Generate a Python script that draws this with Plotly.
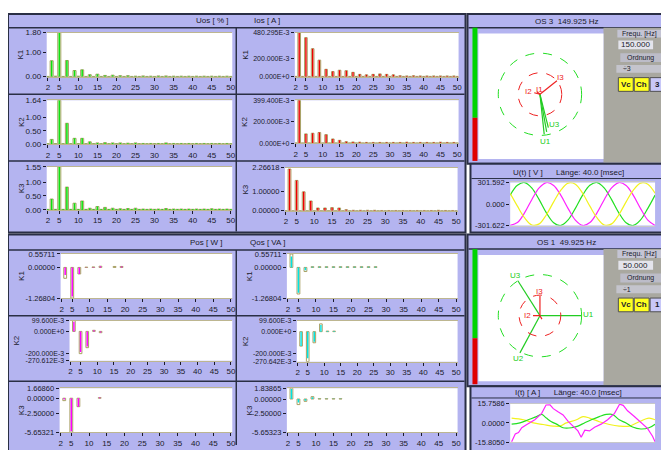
import numpy as np
import plotly.graph_objects as go

# the page body has an 8 px margin; the figure is sized to fill the rest of the 669x450 window
OFF = 8
W, H = 669 - OFF, 450 - OFF


def fx(x):
    return (x - OFF) / W


def fy(y):
    return 1 - (y - OFF) / H


# ---------------- data ----------------
HARM = list(range(2, 51))
X_TICKS = [2, 5, 10, 15, 20, 25, 30, 35, 40, 45, 50]

UOS_K1 = [0.01, 0.65, 0.02, 1.80, 0.01, 0.66, 0.01, 0.25, 0.02, 0.28,
          0.01, 0.08, 0.01, 0.10, 0.01, 0.05, 0.01, 0.06, 0.01, 0.04,
          0.01, 0.04, 0.01, 0.02, 0.01, 0.03, 0.01, 0.02, 0.01, 0.03,
          0.01, 0.03, 0.01, 0.02, 0.01, 0.02, 0.01, 0.02, 0.01, 0.02,
          0.01, 0.02, 0.01, 0.02, 0.01, 0.02, 0.01, 0.02, 0.01]
UOS_K2 = [0.02, 0.18, 0.02, 1.64, 0.02, 0.78, 0.02, 0.22, 0.02, 0.22,
          0.02, 0.09, 0.02, 0.05, 0.02, 0.06, 0.02, 0.05, 0.02, 0.05,
          0.02, 0.04, 0.02, 0.05, 0.02, 0.03, 0.02, 0.03, 0.02, 0.03,
          0.02, 0.05, 0.02, 0.03, 0.02, 0.03, 0.02, 0.03, 0.02, 0.03,
          0.02, 0.03, 0.02, 0.03, 0.02, 0.03, 0.02, 0.03, 0.02]
UOS_K3 = [0.02, 0.39, 0.02, 1.55, 0.02, 0.82, 0.02, 0.24, 0.02, 0.32,
          0.02, 0.06, 0.02, 0.12, 0.02, 0.09, 0.02, 0.06, 0.02, 0.04,
          0.02, 0.05, 0.02, 0.06, 0.02, 0.03, 0.02, 0.03, 0.02, 0.03,
          0.02, 0.05, 0.02, 0.03, 0.02, 0.03, 0.02, 0.03, 0.02, 0.03,
          0.02, 0.03, 0.02, 0.04, 0.02, 0.03, 0.02, 0.03, 0.02]
IOS_K1 = [0.003, 0.480, 0.003, 0.425, 0.003, 0.305, 0.003, 0.180, 0.003, 0.080,
          0.003, 0.055, 0.003, 0.070, 0.003, 0.065, 0.003, 0.047, 0.003, 0.025,
          0.003, 0.020, 0.003, 0.025, 0.003, 0.030, 0.003, 0.025, 0.003, 0.020,
          0.003, 0.010, 0.003, 0.008, 0.003, 0.010, 0.003, 0.008, 0.003, 0.008,
          0.003, 0.008, 0.003, 0.008, 0.003, 0.008, 0.003, 0.008, 0.003]
IOS_K2 = [0.003, 0.399, 0.003, 0.087, 0.003, 0.093, 0.003, 0.100, 0.003, 0.080,
          0.003, 0.040, 0.003, 0.027, 0.003, 0.015, 0.003, 0.012, 0.003, 0.010,
          0.003, 0.008, 0.003, 0.008, 0.003, 0.008, 0.003, 0.008, 0.003, 0.008,
          0.003, 0.008, 0.003, 0.010, 0.003, 0.008, 0.003, 0.008, 0.003, 0.008,
          0.003, 0.008, 0.003, 0.010, 0.003, 0.008, 0.003, 0.008, 0.003]
IOS_K3 = [0.01, 2.20, 0.01, 1.60, 0.01, 1.00, 0.01, 0.52, 0.01, 0.15,
          0.01, 0.15, 0.01, 0.17, 0.01, 0.15, 0.01, 0.06, 0.01, 0.03,
          0.01, 0.03, 0.01, 0.03, 0.01, 0.03, 0.01, 0.02, 0.01, 0.02,
          0.01, 0.02, 0.01, 0.02, 0.01, 0.02, 0.01, 0.02, 0.01, 0.02,
          0.01, 0.02, 0.01, 0.03, 0.01, 0.02, 0.01, 0.02, 0.01]

PQ_HARM = [3, 5, 7, 9, 11, 13, 15, 17, 19, 21, 23, 25, 27]
POS_K1_OUT = [-0.45, -1.268, -0.27, 0.01, 0.02, 0.05, None, 0.04, 0.04, None, None, None, None]
POS_K1_VAL = [-0.31, -1.20, -0.27, 0.01, 0.02, 0.05, None, None, 0.04, None, None, None, None]
POS_K2_OUT = [0.0996, -0.205, -0.15, 0.01, -0.012, None, None, None, None, None, None, None, None]
POS_K2_VAL = [0.09, -0.19, -0.14, 0.01, -0.01, None, None, None, None, None, None, None, None]
POS_K3_OUT = [-0.40, -5.653, -1.40, None, None, 0.10, None, None, None, None, None, None, None]
POS_K3_VAL = [-0.20, -5.50, -1.40, None, None, 0.10, None, None, None, None, None, None, None]
QOS_K1_OUT = [0.557, -1.10, -0.17, 0.03, 0.03, 0.03, 0.03, 0.03, 0.03, 0.03, 0.03, 0.03, 0.03]
QOS_K1_VAL = [0.45, -1.05, -0.12, 0.03, 0.03, 0.03, 0.03, 0.03, 0.03, 0.03, 0.03, 0.03, 0.03]
QOS_K2_OUT = [-0.13, -0.27, -0.10, 0.07, 0.005, 0.005, None, None, None, None, None, None, None]
QOS_K2_VAL = [-0.13, -0.24, -0.09, 0.06, 0.005, 0.005, None, None, None, None, None, None, None]
QOS_K3_OUT = [1.8386, -0.95, -0.40, 0.40, 0.05, 0.05, 0.05, 0.05, None, None, None, None, None]
QOS_K3_VAL = [1.70, -0.60, -0.30, 0.30, 0.05, 0.05, 0.05, 0.05, None, None, None, None, None]

# phasors (magnitude in display units, angle in degrees)
PH3_U_LABELS = ["U1", "U2", "U3"]
PH3_U_MAG = [41, 39, 35]
PH3_U_ANG = [-84, -80, -76]
PH3_I_LABELS = ["I1", "I2", "I3"]
PH3_I_MAG = [4, 6, 22]
PH3_I_ANG = [140, 165, 39]
PH1_U_LABELS = ["U1", "U2", "U3"]
PH1_U_MAG = [42, 43, 42]
PH1_U_ANG = [0, 242, 122]
PH1_I_LABELS = ["I1", "I2", "I3"]
PH1_I_MAG = [4, 7, 20]
PH1_I_ANG = [300, 180, 90]

# waveforms
U_T = [0, 2, 4, 6, 8, 10, 12, 14, 16, 18, 20, 22, 24, 26, 28, 30, 32, 34, 36, 38, 40]
U_GREEN = [124, 262, 300, 223, 61, -124, -262, -300, -223, -61, 124,
           262, 300, 223, 61, -124, -262, -300, -223, -61, 124]
U_MAGENTA = [-300, -260, -121, 64, 225, 300, 260, 121, -64, -225, -300,
             -260, -121, 64, 225, 300, 260, 121, -64, -225, -300]
U_YELLOW = [150, -30, -195, -293, -278, -150, 30, 195, 293, 278, 150,
            -30, -195, -293, -278, -150, 30, 195, 293, 278, 150]

I_MAG_T = [0.4, 1.4, 2.3, 3.2, 4.6, 6.8, 8.7, 9.9, 11.0, 11.9, 13.2, 14.6, 16.0, 17.4, 18.7,
           19.6, 20.6, 21.9, 23.3, 25.1, 26.9, 28.8, 30.2, 31.2, 32.4, 34.2, 35.6, 37.9, 39.3, 40.0]
I_MAG = [-15.5, -9.2, -7.9, -3.9, -1.3, 2.6, 7.9, 14.8, 15.0, 11.8, 9.2, 6.6, 1.3, -2.6, -6.6,
         -11.8, -6.0, -6.6, -3.5, -1.0, 2.6, 7.9, 15.5, 14.5, 10.0, 5.5, 2.0, -4.5, -11.0, -15.5]
I_GRN_T = [0.4, 2.7, 5.0, 7.3, 8.7, 10.0, 11.4, 12.8, 14.6, 16.9, 18.7, 20.5, 22.4, 24.6, 26.5,
           28.3, 30.1, 32.0, 33.8, 36.1, 38.3, 40.0]
I_GRN = [-1.0, 0.0, 2.6, 5.2, 7.0, 4.0, 1.0, -1.0, -4.0, -4.0, -2.6, 0.0, 2.6, 5.2, 7.0,
         7.0, 2.6, 0.0, -3.4, -5.0, -4.0, -1.0]
I_YEL_T = [0.4, 3.7, 6.4, 9.1, 11.9, 13.7, 15.5, 18.3, 20.1, 21.9, 24.6, 27.4, 30.1, 32.9, 35.6, 38.3, 40.0]
I_YEL = [4.0, 2.6, 0.0, -1.3, -2.6, -2.6, 0.0, 2.6, 5.2, 4.0, 1.0, -1.3, -2.6, -2.6, 1.0, 4.0, 2.6]

# ---------------- styling ----------------
FONT = "Liberation Sans"
TXT = "#1a1a2a"
LAV = "#b4b4f0"
DARK = "#2a2f45"
OLIVE = "#a8a064"
FRAME = "#bdb690"
GREEN = "#10e010"
RED = "#ee0000"
MAGENTA = "#ff00ff"
CYAN = "#00e4e4"
YELLOW = "#f2f21e"
GREY = "#a9a8a0"

shapes, annotations, traces, axes_cfg = [], [], [], {}
n_ax = [0]


def rect(x0, y0, x1, y1, fill, line=None, lw=0):
    shapes.append(dict(type="rect", xref="paper", yref="paper",
                       x0=fx(x0), x1=fx(x1), y0=fy(y1), y1=fy(y0),
                       fillcolor=fill, line=dict(color=line or fill, width=lw), layer="below"))


def hline(x0, x1, y, color=DARK, w=1.5):
    shapes.append(dict(type="line", xref="paper", yref="paper", x0=fx(x0), x1=fx(x1),
                       y0=fy(y), y1=fy(y), line=dict(color=color, width=w), layer="below"))


def vline(x, y0, y1, color=DARK, w=1.5):
    shapes.append(dict(type="line", xref="paper", yref="paper", x0=fx(x), x1=fx(x),
                       y0=fy(y0), y1=fy(y1), line=dict(color=color, width=w), layer="below"))


def text(x, y, s, size=8, color=TXT, angle=0, xanchor="center"):
    annotations.append(dict(x=fx(x), y=fy(y), xref="paper", yref="paper", text=s, showarrow=False,
                            font=dict(family=FONT, size=size, color=color), textangle=angle,
                            xanchor=xanchor, yanchor="middle", borderpad=0))


def new_axes(box, xc, yc):
    n_ax[0] += 1
    s = "" if n_ax[0] == 1 else str(n_ax[0])
    l, r, t, b = box
    axes_cfg["xaxis" + s] = dict(domain=[fx(l), fx(r)], anchor="y" + s, fixedrange=True, **xc)
    axes_cfg["yaxis" + s] = dict(domain=[fy(b), fy(t)], anchor="x" + s, fixedrange=True, **yc)
    return "x" + s, "y" + s


def tickfont(size=8):
    return dict(family=FONT, size=size, color=TXT)


# ---------------- panels / frames ----------------
rect(7, 10, 468, 233, LAV, DARK, 2)
hline(8, 467, 24)
vline(237, 24, 232)
hline(8, 467, 92)
hline(8, 467, 160)
text(213, 17, "Uos [ % ]")
text(268, 17, "Ios [ A ]")

rect(7, 235, 468, 460, LAV, DARK, 2)
hline(8, 467, 251)
vline(237, 251, 450)
hline(8, 467, 318)
hline(8, 467, 385)
text(207, 243, "Pos [ W ]")
text(268, 243, "Qos [ VA ]")

for (y0, y1, yh, ttl, gb, rb) in [(10, 163, 24, "OS 3  149.925 Hz", 116, 160),
                                   (235, 390, 250, "OS 1  49.925 Hz", 341, 388)]:
    rect(470, y0, 675, y1, LAV, DARK, 2)
    hline(471, 669, yh)
    text(570, (y0 + yh) / 2 + 1, ttl)
    rect(475, yh, 480, gb, "#00d400")
    rect(475, gb, 480, rb, "#e00000")
    rect(607, yh, 671, y1 - 1, GREY)
    rect(481, yh + 6, 607, y1 - 5 if y0 == 10 else 385, "white")

for (y0, y1, yh, ttl) in [(163, 233, 178, "U(t) [ V ]      Länge: 40.0 [msec]"),
                          (390, 460, 402, "I(t) [ A ]      Länge: 40.0 [msec]")]:
    rect(473, y0, 675, y1, LAV, DARK, 2)
    hline(474, 669, yh, DARK, 1)
    text(572, (y0 + yh) / 2 + 1 if y0 == 163 else 396, ttl)

# controls
CTRL = [("Frequ. [Hz]", "150.000", "3"), ("Frequ. [Hz]", "50.000", "1")]
for k, off in enumerate([0, 225]):
    lab, val, order = CTRL[k]
    rect(621, 26 + off, 665, 34 + off, "#c4c4d4")
    text(643, 30 + off, lab, size=7)
    rect(622, 37 + off, 657, 46 + off, "#e4e4ec")
    text(639, 41.5 + off, val, size=8)
    rect(624, 50 + off, 665, 59 + off, "#bcbcc8")
    text(644, 54.5 + off, "Ordnung", size=7)
    rect(620, 62 + off, 667, 70 + off, "#c4c4cc")
    text(626, 66 + off, "÷" + order, size=7, xanchor="left")
    rect(622, 75 + off, 637, 89 + off, "#ffff20", "#505050", 1)
    text(629.5, 82 + off, "<b>Vc</b>", size=8)
    rect(638, 75 + off, 653, 89 + off, "#ffff20", "#505050", 1)
    text(645.5, 82 + off, "<b>Ch</b>", size=8)
    rect(654, 75 + off, 668, 89 + off, "#c8c8f8", "#505050", 1)
    text(661, 82 + off, "<b>" + order + "</b>", size=8)


# ---------------- bar panels ----------------
def bar_panel(box, xs, out_vals, vals, color, yr, yt, ytxt, klabel, kx, ysize=8):
    l, r, t, b = box
    rect(l, t, r, b, "white")
    xa, ya = new_axes(
        box,
        dict(range=[1.7, 50.4], tickvals=X_TICKS, ticks="outside", ticklen=3, tickwidth=1,
             tickcolor=TXT, tickfont=tickfont(8), showgrid=False, zeroline=False,
             showline=True, linecolor=FRAME, linewidth=1, mirror=True),
        dict(range=yr, tickvals=yt, ticktext=ytxt, ticks="outside", ticklen=3, tickwidth=1,
             tickcolor=TXT, tickfont=tickfont(ysize), showgrid=False, zeroline=False, showline=False))
    traces.append(go.Bar(x=xs, y=out_vals, width=0.8, xaxis=xa, yaxis=ya,
                         marker=dict(color="rgba(0,0,0,0)", line=dict(color=OLIVE, width=1)),
                         hoverinfo="skip", showlegend=False))
    traces.append(go.Bar(x=xs, y=vals, width=0.42, xaxis=xa, yaxis=ya,
                         marker=dict(color=color, line=dict(width=0)),
                         hoverinfo="skip", showlegend=False))
    text(kx, (t + b) / 2, klabel, angle=-90)


bar_panel((46, 233, 29, 74), HARM, UOS_K1, UOS_K1, GREEN, [0, 1.80], [0, 1.0, 1.8],
          ["0.00", "1.00", "1.80"], "K1", 20)
bar_panel((46, 233, 98, 143), HARM, UOS_K2, UOS_K2, GREEN, [0, 1.64], [0, 0.5, 1.0, 1.64],
          ["0.00", "0.50", "1.00", "1.64"], "K2", 20)
bar_panel((46, 233, 166, 210), HARM, UOS_K3, UOS_K3, GREEN, [0, 1.55], [0, 0.5, 1.0, 1.55],
          ["0.00", "0.50", "1.00", "1.55"], "K3", 20)
bar_panel((296, 461, 29, 74), HARM, IOS_K1, IOS_K1, RED, [0, 0.480295], [0, 0.2, 0.480295],
          ["0.000E+0", "200.000E-3", "480.295E-3"], "K1", 246, 7)
bar_panel((296, 461, 98, 142), HARM, IOS_K2, IOS_K2, RED, [0, 0.3994], [0, 0.2, 0.3994],
          ["0.000E+0", "200.000E-3", "399.400E-3"], "K2", 246, 7)
bar_panel((286, 460, 167, 211), HARM, IOS_K3, IOS_K3, RED, [0, 2.26618], [0, 1.0, 2.26618],
          ["0.00000", "1.00000", "2.26618"], "K3", 246, 7.5)

bar_panel((60, 233, 255, 300), PQ_HARM, POS_K1_OUT, POS_K1_VAL, MAGENTA, [-1.26804, 0.55711],
          [-1.26804, 0, 0.55711], ["-1.26804", "0.00000", "0.55711"], "K1", 20, 7.5)
bar_panel((69, 233, 323, 364), PQ_HARM, POS_K2_OUT, POS_K2_VAL, MAGENTA, [-0.270612, 0.0996],
          [-0.270612, -0.2, 0, 0.0996], ["-270.612E-3", "-200.000E-3", "0.000E+0", "99.600E-3"],
          "K2", 16, 7)
bar_panel((59, 233, 392, 437), PQ_HARM, POS_K3_OUT, POS_K3_VAL, MAGENTA, [-5.65321, 1.6686],
          [-5.65321, -2.5, 0, 1.6686], ["-5.65321", "-2.50000", "0.00000", "1.66860"], "K3", 20, 7.5)
bar_panel((288, 460, 255, 300), PQ_HARM, QOS_K1_OUT, QOS_K1_VAL, CYAN, [-1.26804, 0.55711],
          [-1.26804, 0, 0.55711], ["-1.26804", "0.00000", "0.55711"], "K1", 250, 7.5)
bar_panel((298, 460, 323, 365), PQ_HARM, QOS_K2_OUT, QOS_K2_VAL, CYAN, [-0.270642, 0.0996],
          [-0.270642, -0.2, 0, 0.0996], ["-270.642E-3", "-200.000E-3", "0.000E+0", "99.600E-3"],
          "K2", 246, 7)
bar_panel((288, 460, 392, 437), PQ_HARM, QOS_K3_OUT, QOS_K3_VAL, CYAN, [-5.65323, 1.83865],
          [-5.65323, -2.5, 0, 1.83865], ["-5.65323", "-2.50000", "0.00000", "1.83865"], "K3", 250, 7.5)


# ---------------- phasor diagrams ----------------
def phasor(box, center, r_out, r_in, u_lab, u_mag, u_ang, i_lab, i_mag, i_ang, lab_off):
    l, r, t, b = box
    cx, cy = center
    blank = dict(showgrid=False, zeroline=False, showticklabels=False, ticks="", showline=False)
    xa, ya = new_axes(box, dict(range=[l - cx, r - cx], **blank), dict(range=[cy - b, cy - t], **blank))
    for rr, col in [(r_out, "#22dd22"), (r_in, "#ee2222")]:
        shapes.append(dict(type="circle", xref=xa, yref=ya, x0=-rr, x1=rr, y0=-rr, y1=rr,
                           line=dict(color=col, width=1, dash="dash"), layer="above"))
    for labs, mags, angs, col in [(u_lab, u_mag, u_ang, "#22cc22"), (i_lab, i_mag, i_ang, "#ee2222")]:
        for lab, m, a in zip(labs, mags, angs):
            ex, ey = m * np.cos(np.radians(a)), m * np.sin(np.radians(a))
            traces.append(go.Scatter(x=[0, ex], y=[0, ey], mode="lines", xaxis=xa, yaxis=ya,
                                     line=dict(color=col, width=1.2), hoverinfo="skip", showlegend=False))
            if lab in lab_off:
                dx, dy = lab_off[lab]
                annotations.append(dict(x=ex + dx, y=ey + dy, xref=xa, yref=ya, text=lab, showarrow=False,
                                        font=dict(family=FONT, size=8, color=col)))


phasor((481, 607, 30, 157), (543, 92), 42, 22, PH3_U_LABELS, PH3_U_MAG, PH3_U_ANG,
       PH3_I_LABELS, PH3_I_MAG, PH3_I_ANG,
       {"U1": (1, -7), "U3": (6, 3), "I3": (4, 3), "I1": (3, 2), "I2": (-6, 1)})
phasor((481, 607, 255, 385), (543, 318), 42, 21, PH1_U_LABELS, PH1_U_MAG, PH1_U_ANG,
       PH1_I_LABELS, PH1_I_MAG, PH1_I_ANG,
       {"U1": (7, 1), "U2": (-1, -6), "U3": (-2, 5), "I3": (0, 5), "I2": (-6, 0)})


# ---------------- waveforms ----------------
def wave(box, yr, ytxt, series):
    l, r, t, b = box
    rect(l, t, r, b, "white")
    xa, ya = new_axes(
        box,
        dict(range=[0, 40], showgrid=False, zeroline=False, showticklabels=False, ticks="",
             showline=True, linecolor="#c8c8c8", mirror=True),
        dict(range=yr, tickvals=[yr[0], 0, yr[1]], ticktext=ytxt, ticks="outside", ticklen=3,
             tickcolor=TXT, tickfont=tickfont(7.5), showgrid=False, zeroline=False, showline=False))
    for xs, ys, col, shape in series:
        traces.append(go.Scatter(x=xs, y=ys, mode="lines", xaxis=xa, yaxis=ya, cliponaxis=True,
                                 line=dict(color=col, width=1.2, shape=shape), hoverinfo="skip",
                                 showlegend=False))


wave((513, 659, 182, 226), [-301.622, 301.592], ["-301.622", "0.000", "301.592"],
     [(U_T, U_GREEN, "#22e022", "spline"), (U_T, U_MAGENTA, "#ff22ff", "spline"),
      (U_T, U_YELLOW, YELLOW, "spline")])
wave((513, 659, 408, 447), [-15.805, 15.7586], ["-15.8050", "0.0000", "15.7586"],
     [(I_YEL_T, I_YEL, YELLOW, "spline"), (I_GRN_T, I_GRN, "#22e022", "spline"),
      (I_MAG_T, I_MAG, "#ff22ff", "linear")])

# ---------------- figure ----------------
fig = go.Figure(data=traces)
fig.update_layout(
    width=W, height=H, autosize=False,
    margin=dict(l=0, r=0, t=0, b=0, pad=0),
    paper_bgcolor="white", plot_bgcolor="rgba(0,0,0,0)",
    barmode="overlay", showlegend=False,
    shapes=shapes, annotations=annotations,
    **axes_cfg,
)
fig.write_html("out.html", config={"displayModeBar": False, "staticPlot": True})
